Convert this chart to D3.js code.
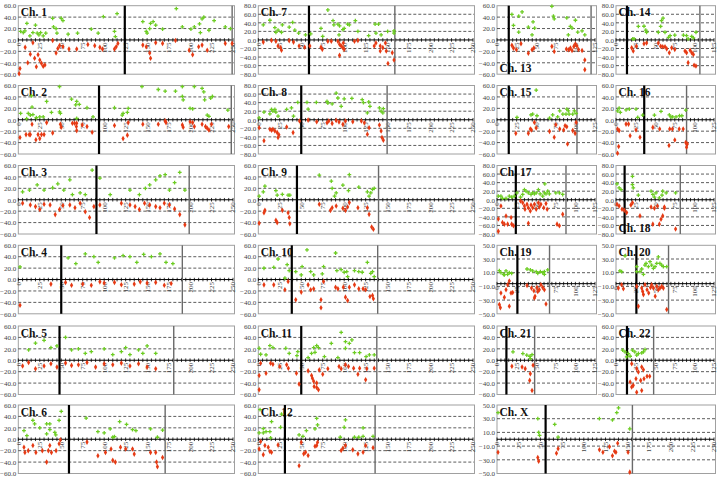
<!DOCTYPE html>
<html><head><meta charset="utf-8">
<script src="https://cdn.jsdelivr.net/npm/d3@7"></script>
<style>body{margin:0;background:#fff}svg{display:block}</style>
</head><body><svg id="c" width="720" height="477"></svg>
<script>
// ---------------- DATA ----------------
const chromosomes = ["1","2","3","4","5","6","7","8","9","10","11","12","13","14","15","16","17","18","19","20","21","22","X"];
const centromeres = [124, 94, 91, 50, 48, 59, 59, 50, 45, 39, 50, 31, 15, 14, 15, 36, 24, 11, 26, 26, 12, 14, 56];
const lengths =     [249, 248, 199, 191, 181, 171, 159, 150, 140, 139, 138, 136, 120, 107, 102, 90, 88, 82, 67, 67, 48, 48, 156];
const yLimits =     [60, 60, 60, 60, 60, 60, 80, 80, 60, 60, 60, 60, 60, 80, 60, 60, 80, 80, 50, 50, 60, 60, 50];
const xMaxMb =      [250,250,250,250,250,250,250,250,250,250,250,250,125,125,125,125,125,125,125,125,125,125,250];
const yTicks60 = [60,40,20,0,-20,-40,-60];
const yTicks80 = [80,60,40,20,0,-20,-40,-60,-80];
const yTicks50 = [50,30,10,-10,-30,-50];
const xTicks250 = [0,25,50,75,100,125,150,175,200,225,250];
const xTicks125 = [0,25,50,75,100,125];

const gain1 = [[2.7,15],[5.8,13],[7.7,16],[10,29],[13.5,7],[17,13],[20,26],[22,12],[24,9],[26,13],[29,7],[32,12],[40,38],[41,23],[44,20],[45,12],[50,38],[52,34],[58,10],[69,12],[85,19],[93,12],[99,41],[112,15],[113,6],[115,46],[145,32],[149,15],[150,12],[153,20],[154,29],[157,32],[160,26],[168,19],[184,55],[191,23],[201,19],[205,23],[211,28],[212,13],[214,37],[216,40],[222,17],[228,34],[241,23],[247,20]];
const loss1 = [[2,-50],[1,-59],[8,-13],[11,-40],[14,-25],[17,-5],[19,-32],[21,-47],[23,-26],[25,-35],[27,-41],[29,-46],[31,-44],[40,-1],[44,-23],[46,-15],[48,-10],[52,-12],[59,-16],[68,-16],[81,-8],[89,-10],[95,-13],[98,-16],[112,-16],[114,-12],[116,-6],[145,-9],[149,-12],[153,-23],[154,-32],[160,-5],[168,-6],[183,-1],[199,-18],[203,-26],[210,-12],[214,-9],[220,-18],[241,-6],[249,-6]];
const gain2 = [[2.7,11],[9.7,2],[11.6,11],[14,8],[15.4,42],[16,22],[17,9],[21,3.5],[25,5],[29,5],[33,32],[38.6,13],[48,58],[48,14],[49,11],[62,36],[66.8,26],[68,32],[71,27],[68,2.4],[80,21],[87,5],[112,21],[121,8],[122,11],[127,13],[128,20],[144,58],[163,53],[171,50],[183,50],[191,58],[191,41],[192,35],[200,20],[203,19],[205,58],[214,55],[216,49],[217,35],[220,8],[222,6],[224,38],[226,41],[244,17]];
const loss2 = [[2,-31],[9,-26],[12.7,-26],[14,-26],[16,-8],[20.5,-35],[23,-26],[25,-33],[27,-26],[30,-26],[33,-5],[40,-23],[49,-8],[50,-13],[63,-6],[65.6,-6],[68,-6],[67.6,-12],[68,-19],[74.5,-9],[80,-12],[86,-22],[112,-10],[122,-33],[127,-27],[128,-5],[145,-8],[163,-8],[171,-2],[172,-5],[191,-9],[192,-13],[200,-3.5],[203,-5],[205,-12],[214,-8],[218,-12],[220,-15],[222,-18],[225,-8],[245,-12]];
const gain3 = [[5,14],[13,17],[22,26],[30,17],[40,21],[46,28],[53,17],[60,35],[63,9],[72,12],[78,9],[86,52],[95,38],[107,9],[130,17],[141,9],[148,20],[153,26],[160,35],[165,42],[171,44],[176,17],[182,30],[188,48],[194,17]];
const loss3 = [[5,-6],[14,-9],[20,-12],[25,-17],[30,-8],[37,-9],[43,-26],[48,-17],[52,-10],[60,-9],[66,-14],[72,-6],[78,-21],[83,-31],[88,-12],[95,-9],[120,-6],[130,-9],[136,-12],[141,-17],[147,-6],[153,-9],[160,-12],[165,-14],[170,-6],[176,-9],[182,-16],[188,-26],[194,-44]];
const gain4 = [[2,22],[58,38],[67,28],[78,45],[88,40],[93,30],[112,38],[122,42],[130,40],[138,30],[146,44],[155,40],[165,45],[172,30],[180,28]];
const loss4 = [[2,-45],[38,-8],[55,-5],[62,-10],[75,-8],[85,-10],[95,-4],[100,-6],[112,-5],[120,-9],[135,-8],[142,-4],[150,-6],[160,-5],[170,-10],[178,-7]];
const gain5 = [[12,18],[20,30],[30,35],[38,22],[45,25],[55,40],[62,18],[70,20],[78,12],[85,15],[100,20],[110,10],[120,15],[125,22],[130,10],[140,18],[145,12],[150,25],[160,12]];
const loss5 = [[5,-10],[12,-4],[20,-15],[30,-10],[38,-6],[45,-12],[55,-5],[62,-9],[70,-8],[80,-4],[90,-12],[100,-6],[110,-8],[120,-5],[130,-10],[140,-6],[150,-12],[160,-15]];
const gain6 = [[6.6,15],[10,6.5],[17,33],[19,27],[25,20],[33,27],[36.7,27],[36.7,17],[33,9.4],[42.5,12],[43.6,7.6],[47.5,33],[50,49],[79,37],[92.7,13.5],[100,11],[107,18],[110,3.5],[112,4.7],[118,31],[126,26],[133,17],[137,15],[154,18],[162,3.5],[168,16]];
const loss6 = [[6.6,-14],[7.7,-23],[11.6,-20],[17,-11],[20.5,-23],[28,-20],[33,-40],[35,-20],[36.7,-11],[38.6,-23],[44,-20],[47.5,-8],[49,-1],[80,-5],[92.7,-29],[101.5,-23],[108,-17],[110,-37],[113,-40],[119,-14],[125,-17],[133,-17],[135,-26],[154,-23],[160,-23],[161,-40],[162,-48],[168,-32]];
const gain7 = [[5.8,35],[13.5,46],[19.3,29],[20.5,18],[23,23],[27,18],[28,35],[36,30],[40,41],[42.5,23],[47,16],[55,12],[61,14],[73,27],[75,8.5],[81,70],[87,45],[88,35],[92.7,37],[94.6,33],[94,12],[98.5,24],[100,27],[104,37],[106,35],[113,45],[116,20],[128.5,10],[136,37],[140,37],[137,16],[143,12],[150.6,20],[158,16],[158,21]];
const loss7 = [[5.8,-5],[15.4,-1],[20.5,-3],[23,-14],[26,-18],[27,-24],[36,-1.5],[41,-5],[47.5,-14],[54,-17],[60,-14],[73,-17],[74.5,-22],[81,-3],[85,-3],[92.7,-3],[94.6,-10],[96.5,-14],[98.5,-18],[100,-22],[99,-7],[94.6,-36],[112,-3],[116,-1],[135,-14],[137,-7],[142,-14],[145,-18],[142,-26],[148,-7],[149,-26],[151,-55],[156,-30],[158,-47]];
const gain8 = [[1,4.6],[6.6,17.7],[13.5,13.8],[15.4,24],[19.3,24],[17,20],[20.5,17.7],[23,8.5],[33,24],[38.6,27.7],[41,8.5],[46,40.8],[56.7,40.8],[58,25],[67.6,40.8],[80,43],[81,39],[86,37],[90.7,62],[92.7,50.8],[96.5,31.5],[100,49],[109,50],[121,47],[122.4,40],[128.6,41.5],[127,16],[130,31.5],[141,27.7],[143,20],[145,16],[145.6,26]];
const loss8 = [[1,-18.5],[6.6,-49],[13.5,-22],[15.4,-24.6],[17,-22],[19.3,-26],[22,-30],[23,-41.5],[24,-35],[33,-17],[40.5,-30],[48,-3],[58,-0.8],[68,-4.6],[80,-7],[82,-3],[86,-8.5],[90.7,-1.5],[94,-5.4],[98.5,-10.8],[101.5,-3],[110,-4.6],[120,-3],[123.5,-7],[127,-34],[129,-18.5],[141,-12.3],[143,-26],[144,-41.5],[145.6,-47.6]];
const gain9 = [[1,6.4],[5.8,14],[7.7,23.8],[20.5,16],[22,8],[28,9.3],[34.7,8],[36.7,8],[71,43],[85,32.5],[86,19.8],[88.8,6.4],[90.7,12],[98.5,25.6],[105,16],[106,44],[117,22],[127,14],[129,6.4],[131,12],[133,18],[135,19.8]];
const loss9 = [[1,-41],[6.6,-22.7],[7.7,-18.6],[20.5,-36],[22,-40],[28,-18.6],[34.7,-22.7],[36,-31],[36.7,-42],[71,-8],[84,-18.6],[86,-14],[90.7,-11],[98.5,-15],[101.5,-18.6],[104,-12.8],[106,-5],[116,-14],[127,-14],[129,-25.6],[132,-47.7],[134,-51.7]];
const gain10 = [[6.6,19.8],[18,21.5],[23,36],[31,2.3],[33.6,26],[36,15.7],[43.6,14],[50,8],[51,22.7],[56.7,52],[61,14],[64.5,8],[74.5,10],[76,22.7],[90,46.5],[91.5,15.7],[96.5,17.4],[100,12.8],[103,14],[104,5],[112,15.7],[117,14],[121,12.8],[127,30],[131,11],[133,14],[135,5]];
const loss10 = [[6.6,-9.3],[18,-9.3],[31,-18],[34.7,-3.5],[43.6,-35.5],[50,-22],[58,-9.3],[61,-18],[64.5,-16.3],[73,-35.5],[73,-49.4],[76,-3.5],[90,-13.4],[92.7,-16.3],[99,-13.4],[101.5,-30.8],[104,-36.6],[106,-13.4],[112,-9.3],[117,-16.3],[122,-16.3],[125,-18],[130,-29.6],[133,-28],[134,-33.7]];
const gain11 = [[1,21],[2.7,10.5],[9,9.3],[13.5,25.6],[17,22],[32,21],[36,12],[45,8],[46,15],[58,4.7],[62,12],[64.5,22],[66,14],[68,25.6],[70,22],[77,6.4],[85,29.6],[92.7,4.7],[96.5,48.8],[101.5,21],[101.5,32.6],[106,29.6],[109,35.5],[112,13.4],[118,13.4],[125.5,6.4],[129.3,9.3],[135,9.3]];
const loss11 = [[1,-26.7],[1,-51.7],[2.7,-5.2],[9,-22.7],[14.3,-5.2],[17,-7],[25,-11],[33,-8],[35,-14],[44.4,-22.7],[47.5,-41.8],[58,-18.6],[62,-26.7],[63,-31.4],[64.5,-37],[65,-46],[68,-47.7],[70,-51.7],[68,-40],[71,-16.9],[75,-24.4],[81,-15],[94,-11],[96.5,-15],[101.5,-8],[105,-11],[111,-14],[116,-24.4],[118,-14],[125,-34.3],[126.3,-15],[135,-14]];
const gain12 = [[2,52],[1,11],[5.8,11],[5.8,18.6],[9,13.4],[13.5,13.4],[15.4,30.8],[14.3,2.3],[27,44],[26,21],[47.5,7.6],[52,5.2],[56,15],[66,18],[68,36.6],[69,25],[95.4,3.5],[100,21],[101.5,34],[112,3.5],[117,3.5],[122,19.8],[122,5.2],[133.6,5.2]];
const loss12 = [[1,-17],[2.7,-4],[5.8,-27],[7.7,-11],[11.6,-14],[13.5,-21.5],[15.4,-22.7],[23,-10],[47.5,-46.5],[50,-5.2],[52.9,-25.6],[55,-22.7],[58,-28.5],[66,-12.2],[68,-11],[69,-5.2],[96.5,-19.8],[98.5,-15.7],[101.5,-11],[110,-18.6],[116,-25.6],[122,-22.7],[125,-11],[133.6,-15]];
const gain13 = [[19,44.6],[27.7,41.7],[32,49],[21,25.6],[27.7,13.7],[40,22.6],[44.7,8.9],[46,31.5],[48,20.8],[70,59],[72,41.7],[73,36.9],[89,38.7],[91,8.9],[93.6,23.8],[95.7,20.8],[100,34.5],[103,13.7],[108.5,16],[112,8.9]];
const loss13 = [[19,-9.5],[21,-14.3],[24.7,-17.3],[30.6,-6.5],[40,-23.2],[44.7,-17.3],[47,-14.3],[70,-11.3],[73,-20.2],[88.5,-16],[91.5,-17.3],[93.6,-14.3],[95.7,-18.5],[98,-11.3],[100,-7],[102,-10.7],[104,-16.7],[108.5,-18.5],[112,-35],[112,-52]];
const gain14 = [[21.3,2.3],[23,2.3],[28.5,31.5],[35.7,32],[38,23],[39,18],[54,18],[58,45],[60,50.8],[57,31.5],[62.5,18],[67,6],[69,10],[75,11.5],[86,11.5],[90,10],[92,2.3],[96.6,8.5],[98.7,4.6],[102,18]];
const loss14 = [[20,-18.5],[22,-26],[26,-14.6],[35.7,-9],[39,-7],[54,-7],[57,-14.6],[59.6,-16],[62.5,-16],[64.7,-20.8],[68,-30],[71,-18.5],[75,-22.3],[88,-26],[90,-30],[94.5,-24],[96.6,-30],[98.7,-33.8],[92,-53],[99.6,-59],[102,-60.8]];
const gain15 = [[25.5,4],[43.4,8.7],[45.5,10],[50,52],[51,7],[67,3],[71,8.7],[77.4,5.2],[80,15.7],[84,10],[88,10],[89,18.6],[91,15.7],[92,10],[96.6,10],[98.7,15.7],[101,11]];
const loss15 = [[24,-23.8],[40,-23.8],[42.5,-16.3],[44,-18],[47.7,-4.6],[50,-14.5],[67,-20.3],[73,-30.8],[75,-8.7],[80,-16.3],[85,-18],[86.8,-10.5],[89,-12.2],[90,-42.4],[96.6,-19],[99.6,-23.8],[101,-4.6]];
const gain16 = [[2,15.7],[4,20.3],[5.5,12.8],[12.8,17.4],[17,18.6],[25.5,18.6],[27.7,4],[34,8],[49,8],[57.4,14.5],[68,8.7],[70,5.2],[72.3,5.2],[76.6,5.2],[81,7],[84,7],[89,17]];
const loss16 = [[2,-16.3],[4,-19],[3.4,-47],[2,-58.7],[12.8,-7.6],[16,-7.6],[18,-28],[25.5,-18],[30.6,-30.8],[47,-13.4],[55.7,-16.3],[67.6,-45],[68.5,-16.3],[72,-16.3],[75,-35.5],[80.6,-16.3],[85.7,-16.3],[89,-40],[90,-48],[91,-42.4]];
const gain17 = [[1.7,8.5],[5,8.5],[7,3],[11.5,3],[15.7,8.5],[18.7,6],[22,8.5],[25.5,16],[30,6],[32.8,12.3],[35,23.8],[37,20],[40,16],[43.4,12.3],[45.5,16],[47.7,13.8],[50,16],[52.8,23.8],[55,13.8],[58.3,8.5],[60.4,16],[61,37],[62.5,13.8],[64.7,20],[66.8,13.8],[75,16],[79.6,16],[83.8,12.3]];
const loss17 = [[1.7,-45],[5,-14.6],[7,-53],[9.4,-57],[13.6,-57],[11.5,-38],[18,-41.5],[18.7,-57],[21,-60.8],[1.7,-73.8],[30,-3],[32.8,-7],[35,-14.6],[35.7,-22],[38.3,-10.8],[40,-18.5],[42.5,-26],[43.4,-12.3],[45.5,-18.5],[47.7,-10.8],[50,-22],[52.8,-7],[54,-17],[56,-10.8],[59.6,-18.5],[62.5,-9],[64,-22],[40,-55],[76.6,-57],[79.6,-60.8],[83.8,-34]];
const gain18 = [[1.3,37],[4,27.7],[6.4,23.8],[21,35.4],[22,27.7],[28.5,10.8],[44.7,20],[47,12.3],[49,6],[51,16],[55.3,4.6],[58.7,10.8],[59.6,20],[64,16],[76,16],[21,54.6]];
const loss18 = [[1.3,-10.8],[4,-14.6],[7.7,-22],[10.6,-24.6],[13.6,-30],[19,-12.3],[21,-7],[30.6,-37.7],[44.7,-17],[47,-57],[49,-20],[53,-14.6],[57.4,-45.4],[59.6,-37.7],[61.7,-17],[61.7,-20],[55.3,-57],[76,-68.5]];
const gain19 = [[3,13],[5,10],[8.5,7.7],[11.5,12.5],[13.6,7.7],[15.7,10],[18.7,9],[9.4,6.7],[38.3,15.4],[42.5,14],[45.5,12.5],[50,11.5],[52,9],[55.3,11.5],[58.3,10],[60.4,7.7],[64.7,14],[60.4,11.5]];
const loss19 = [[3,-36.5],[4.3,-41],[5,-19.7],[9.4,-26],[11.5,-15],[13.6,-7.7],[15.7,-2],[17.9,-19.7],[20,-18.8],[15.7,-39],[38.3,-8.7],[44,-12.5],[47,-16.3],[48.5,-24.5],[51,-11.5],[52,-17.3],[54,-15],[58.3,-11.5],[60.4,-15],[62.5,-35.6],[56,-7.7],[47.7,-27]];
const gain20 = [[5,12.5],[7.2,11.5],[11.5,34.6],[26.4,18.8],[26.4,11.5],[30.6,11.5],[32.8,15.4],[35,7.7],[37,21],[38.3,23.5],[41.3,18.8],[43.4,26],[45.5,21],[47.7,16.3],[49.8,18.8],[52,23.5],[54,33],[56,23.5],[58.3,21],[60.4,18.8],[64.7,18.8]];
const loss20 = [[3,-12.5],[7.2,-7.7],[9.4,-13.5],[26.4,-10],[28.5,-39],[32.8,-12.5],[34,-17.3],[35,-22],[37,-7.7],[39.6,-15],[41.7,-19.7],[44,-11.5],[45.5,-7.7],[47.7,-12.5],[50,-24.5],[52,-10],[54,-15],[56,-12.5],[58.3,-10],[60.4,-12.5],[64.7,-43.8]];
const gain21 = [[20.4,14.7],[33,11.8],[38,8.8],[42,7],[44.7,10],[42.5,3]];
const loss21 = [[19,-10.6],[32,-11.8],[36,-14.7],[42.5,-23.5],[41.7,-35.3],[44.7,-53],[46,-8.8]];
const gain22 = [[8.5,17.6],[11.5,14.7],[15.7,11.8],[18,7],[21,17.6],[24,14.7],[26.4,8.8],[28.5,11.8],[32.8,13],[37,18.8],[35,14.7],[13.6,6]];
const loss22 = [[20,-6],[26.4,-14.7],[28.5,-20.6],[32.8,-11.8],[35,-16.5],[25.5,-32.4],[22,-44],[26.4,-56],[32.8,-53],[31.5,-35.3],[35.7,-32.4],[39.6,-28],[43,-28],[18,-38],[20,-47]];
const gainX = [[1.2,39],[47,30],[48,10],[49,5.8],[66.5,21.6],[70.4,3.2],[118,30],[133,28.4],[138,39],[140,45.8],[153,15.3]];
const lossX = [[1.2,-19],[47,-26.8],[48,-32],[68.5,-20.5],[70.4,-13.7],[118,-15.3],[122,-19],[129.6,-11],[133,-24.2],[135.4,-17.4],[139,-5.8],[137,-19],[151,-19],[153,-48]];

const gains = [gain1,gain2,gain3,gain4,gain5,gain6,gain7,gain8,gain9,gain10,gain11,gain12,gain13,gain14,gain15,gain16,gain17,gain18,gain19,gain20,gain21,gain22,gainX];
const losses = [loss1,loss2,loss3,loss4,loss5,loss6,loss7,loss8,loss9,loss10,loss11,loss12,loss13,loss14,loss15,loss16,loss17,loss18,loss19,loss20,loss21,loss22,lossX];

// ---------------- LAYOUT ----------------
const colX = [[18.3,233],[258.3,473],[497,595],[616,714]];
const rowTop = [5.7,85.5,165.5,245.3,326,405];
const plotH = 68.5;
const panelPos = {
  "1":[0,0],"2":[0,1],"3":[0,2],"4":[0,3],"5":[0,4],"6":[0,5],
  "7":[1,0],"8":[1,1],"9":[1,2],"10":[1,3],"11":[1,4],"12":[1,5],
  "13":[2,0],"14":[3,0],"15":[2,1],"16":[3,1],"17":[2,2],"18":[3,2],
  "19":[2,3],"20":[3,3],"21":[2,4],"22":[3,4],"X":[2,5]
};
const axisCross = {"19":-6,"20":-6};
const labelBottom = {"13":true,"18":true};

const svg = d3.select("#c");
const GREEN = "#6ccc22", RED = "#e63a14";
const serif = "'Liberation Serif','Times New Roman',serif";

chromosomes.forEach((ch, i) => {
  const [c, r] = panelPos[ch];
  let x0 = colX[c][0], x1 = colX[c][1];
  if (ch === "X") x1 = colX[3][1];
  const y0 = rowTop[r], y1 = y0 + plotH;
  const lim = yLimits[i];
  const x = d3.scaleLinear().domain([0, xMaxMb[i]]).range([x0, x1]);
  const y = d3.scaleLinear().domain([-lim, lim]).range([y1, y0]);
  const g = svg.append("g");
  const ticks = lim === 80 ? yTicks80 : lim === 50 ? yTicks50 : yTicks60;
  const xt = xMaxMb[i] === 250 ? xTicks250 : xTicks125;

  // plot frame
  g.append("rect").attr("x", x0).attr("y", y0).attr("width", x1 - x0 + 1.5).attr("height", plotH)
    .attr("fill", "#fff").attr("stroke", "#a0a0a0").attr("stroke-width", 1);

  // gridlines
  g.selectAll(".grid").data(ticks.filter(t => t !== 0 && Math.abs(t) !== lim)).join("line")
    .attr("x1", x0).attr("x2", x1 + 1).attr("y1", d => y(d)).attr("y2", d => y(d))
    .attr("stroke", "#333").attr("stroke-width", 0.8).attr("stroke-dasharray", "3,2");

  // y axis labels
  const yAxis = d3.axisLeft(y).tickValues(ticks).tickSize(0).tickPadding(2).tickFormat(d3.format(".1f"));
  const ya = g.append("g").attr("transform", `translate(${x0},0)`).call(yAxis);
  ya.select(".domain").remove();
  ya.selectAll("text").attr("font-family", serif).attr("font-size", 7).attr("fill", "#444");

  // x axis at cross value
  const cy = y(axisCross[ch] || 0);
  g.append("line").attr("x1", x0).attr("x2", x1).attr("y1", cy).attr("y2", cy).attr("stroke", "#000").attr("stroke-width", 1);
  const minor = d3.range(0, xMaxMb[i] + 0.01, 5);
  g.selectAll(".mt").data(minor).join("line")
    .attr("x1", d => x(d)).attr("x2", d => x(d)).attr("y1", cy - 1.8).attr("y2", cy + 1.8)
    .attr("stroke", "#000").attr("stroke-width", 0.8);
  g.selectAll(".xl").data(xt).join("text")
    .attr("transform", d => `translate(${x(d)},${cy + 2.5}) rotate(-90)`)
    .attr("text-anchor", "end").attr("dy", "0.35em")
    .attr("font-family", serif).attr("font-size", 7).attr("fill", "#444")
    .text(d => d);

  // label
  g.append("text").attr("x", x0 + 2.5).attr("y", labelBottom[ch] ? y1 - 2.5 : y0 + 10.5)
    .attr("font-family", serif).attr("font-weight", "bold").attr("font-size", 11.5).attr("fill", "#111")
    .text("Ch. " + ch);

  // centromere & end lines
  g.append("line").attr("x1", x(centromeres[i])).attr("x2", x(centromeres[i])).attr("y1", y0).attr("y2", y1)
    .attr("stroke", "#000").attr("stroke-width", 2.2);
  g.append("line").attr("x1", x(lengths[i])).attr("x2", x(lengths[i])).attr("y1", y0).attr("y2", y1)
    .attr("stroke", "#6a6a6a").attr("stroke-width", 1.4);

  // points
  const clip = v => Math.max(-lim + 1, Math.min(lim - 1, v));
  g.selectAll(".gp").data(gains[i]).join("path")
    .attr("d", d3.symbol(d3.symbolCross, 8))
    .attr("transform", d => `translate(${x(d[0])},${y(clip(d[1]))})`)
    .attr("fill", GREEN);
  g.selectAll(".lp").data(losses[i]).join("path")
    .attr("d", d3.symbol(d3.symbolDiamond, 9))
    .attr("transform", d => `translate(${x(d[0])},${y(clip(d[1]))})`)
    .attr("fill", RED);
});
</script></body></html>
